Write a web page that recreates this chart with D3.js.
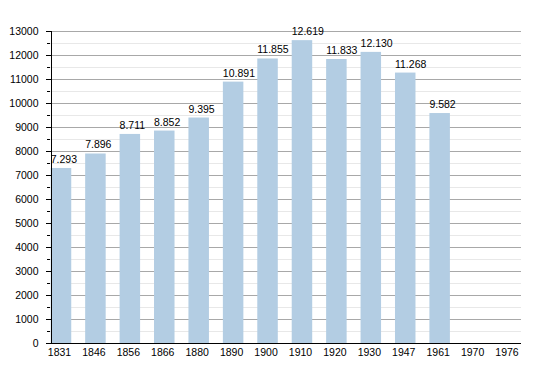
<html>
<head>
    <script src="https://d3js.org/d3.v7.min.js" charSet="utf-8"></script>
    <style>
        body { margin: 0; background: #fff; }
        .axis text { font-family: "Liberation Sans", Arial, sans-serif; font-size: 10.5px; fill: #000; }
        .axis path, .axis line { fill: none; stroke: #000; shape-rendering: crispEdges; }
        .val { font-family: "Liberation Sans", Arial, sans-serif; font-size: 10.5px; fill: #000; }
    </style>
</head>
<body>
<div id="vis"></div>
<script>
    // years and population
    let years = ["1831", "1846", "1856", "1866", "1880", "1890", "1900", "1910", "1920", "1930", "1947", "1961", "1970", "1976"];
    let population = [7293, 7896, 8711, 8852, 9395, 10891, 11855, 12619, 11833, 12130, 11268, 9582, null, null];
    let labels = ["7.293", "7.896", "8.711", "8.852", "9.395", "10.891", "11.855", "12.619", "11.833", "12.130", "11.268", "9.582", "", ""];
    let yTicks = d3.range(0, 13001, 1000);
    let yMinor = d3.range(500, 13000, 1000);

    let width = 550, height = 373;
    let plotLeft = 50, plotRight = 521, plotTop = 31, plotBottom = 343;

    let svg = d3.select("#vis").append("svg")
        .attr("width", width)
        .attr("height", height);

    let x = d3.scalePoint()
        .domain(years)
        .range([61, 508.5]);

    let y = d3.scaleLinear()
        .domain([0, 13000])
        .range([plotBottom, plotTop]);

    // light grid lines at the half thousands
    svg.append("g").selectAll("line")
        .data(yMinor)
        .enter().append("line")
        .attr("x1", plotLeft).attr("x2", plotRight)
        .attr("y1", d => Math.round(y(d)) + 0.5)
        .attr("y2", d => Math.round(y(d)) + 0.5)
        .style("stroke", "#e8e8e8");

    // major grid lines
    svg.append("g").selectAll("line")
        .data(yTicks.slice(1))
        .enter().append("line")
        .attr("x1", plotLeft).attr("x2", plotRight)
        .attr("y1", d => Math.round(y(d)) + 0.5)
        .attr("y2", d => Math.round(y(d)) + 0.5)
        .style("stroke", "#a8a8a8");

    let barW = 20.5;
    let rows = years.map((yr, i) => ({year: yr, value: population[i], label: labels[i]}))
        .filter(d => d.value != null);

    svg.append("g").selectAll("rect")
        .data(rows)
        .enter().append("rect")
        .attr("x", d => x(d.year) - barW / 2)
        .attr("width", barW)
        .attr("y", d => y(d.value))
        .attr("height", d => y(0) - y(d.value))
        .style("fill", "#b3cde3");

    // value labels start at the left edge of each bar
    svg.append("g").selectAll("text")
        .data(rows)
        .enter().append("text")
        .attr("class", "val")
        .attr("x", d => x(d.year) - barW / 2)
        .attr("y", d => y(d.value) - 5)
        .style("text-anchor", "start")
        .text(d => d.label);

    // minor ticks on y axis
    svg.append("g").selectAll("line")
        .data(yMinor)
        .enter().append("line")
        .attr("x1", plotLeft - 3).attr("x2", plotLeft)
        .attr("y1", d => Math.round(y(d)) + 0.5)
        .attr("y2", d => Math.round(y(d)) + 0.5)
        .style("stroke", "#000");

    svg.append("g")
        .attr("class", "axis")
        .attr("transform", "translate(" + (plotLeft + 0.5) + ",0)")
        .call(d3.axisLeft(y).tickValues(yTicks).tickSizeOuter(0).tickSize(5).tickPadding(7).tickFormat(d3.format("d")));

    svg.append("g")
        .attr("class", "axis")
        .attr("transform", "translate(-2," + (plotBottom + 0.5) + ")")
        .call(d3.axisBottom(x).tickSize(0).tickPadding(5))
        .call(g => g.select(".domain").attr("d", "M" + (plotLeft + 2) + ",0H" + (plotRight + 2)));
</script>
</body>
</html>
